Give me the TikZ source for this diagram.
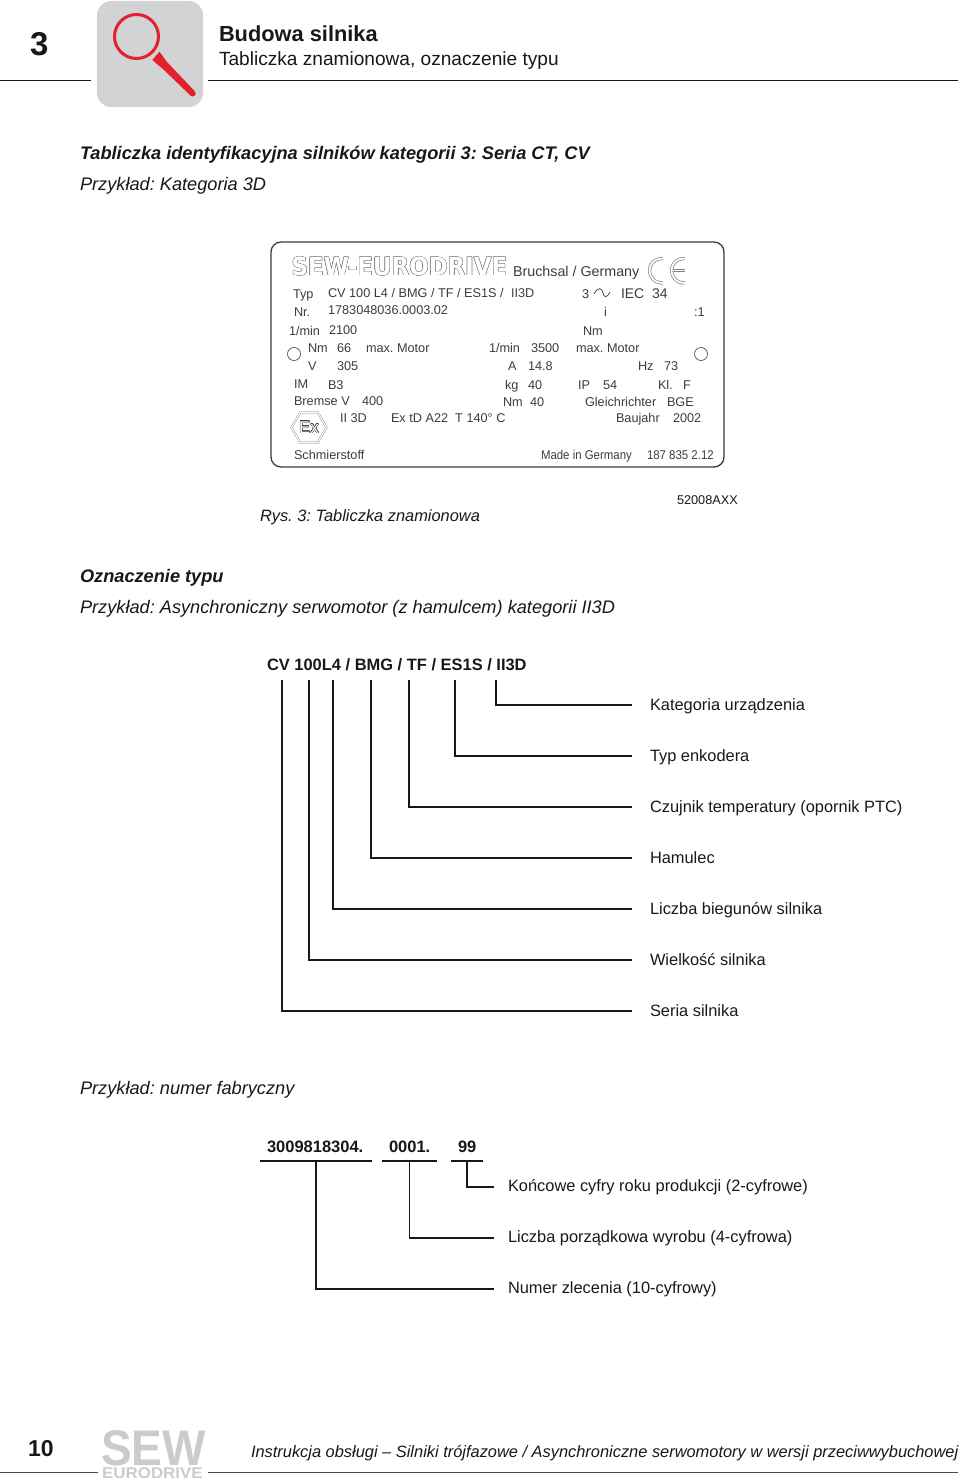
\documentclass[tikz,border=0pt]{standalone}
\usepackage{fontspec}
\setmainfont{Liberation Sans}
\newfontfamily\logofont{DejaVu Sans}
\usepackage[copies]{contour}
\usetikzlibrary{shapes.geometric, positioning, calc}
\definecolor{inkblack}{HTML}{1A1718}
\definecolor{platetxt}{HTML}{3C3C3E}
\definecolor{iconred}{HTML}{E3202C}
\definecolor{icongray}{HTML}{D1D3D4}
\definecolor{logogray}{HTML}{C9CBCD}
\contourlength{0.5pt}
\frenchspacing

\begin{document}
\begin{tikzpicture}[
        x=1pt, y=-1pt, text=inkblack,
        txt/.style={anchor=base west, inner sep=0pt, outer sep=0pt, font=\fontsize{16.4}{20}\selectfont},
        head/.style={txt, font=\fontsize{18.2}{22}\selectfont\itshape},
        plate/.style={anchor=base west, inner sep=0pt, outer sep=0pt, text=platetxt, font=\fontsize{12.7}{15}\selectfont},
        lab/.style={anchor=west, inner sep=0pt, inner xsep=18pt, outer sep=0pt, text height=14pt, text depth=4pt, font=\fontsize{16.4}{20}\selectfont},
        labb/.style={lab, inner xsep=14pt, text height=12pt},
        numb/.style={txt, font=\fontsize{16.5}{20}\selectfont\bfseries},
        lead/.style={line width=1.3pt, inkblack},
        rule/.style={line width=1pt, inkblack}
    ]
    \useasboundingbox (0,0) rectangle (960,1479);

    % page head
    \node[txt, font=\fontsize{33}{36}\selectfont\bfseries] (chap) at (30,56) {3};
    \node[txt, font=\fontsize{21.8}{26}\selectfont\bfseries] (title) at (219,42) {Budowa silnika};
    \node[txt, font=\fontsize{19.1}{22}\selectfont] (subtitle) at (219,66) {Tabliczka znamionowa, oznaczenie typu};
    \coordinate (hl1) at (0,81);
    \coordinate (hl2) at (91,81);
    \coordinate (hl3) at (208,81);
    \coordinate (hl4) at (958,81);
    \draw[rule] (hl1) -- (hl2);
    \draw[rule] (hl3) -- (hl4);

    % icon
    \fill[icongray, rounded corners=14pt] (97,1) rectangle (203,107);
    \draw[iconred, line width=3pt] (136.5,36.5) circle (22);
    \fill[iconred] (152.3,60) -- (159.5,51.7) -- (167,62) -- (194.5,91) -- (191,96) -- (164,70) -- cycle;
    \fill[iconred] (192.7,93.5) circle (3);

    % headings
    \node[head, font=\fontsize{18.2}{22}\selectfont\bfseries\itshape] (h1) at (80,160) {Tabliczka identyfikacyjna silników kategorii 3: Seria CT, CV};
    \node[head] (h2) at (80,191) {Przykład: Kategoria 3D};
    \node[head, font=\fontsize{16.4}{20}\selectfont\itshape] (rys) at (260,521) {Rys. 3: Tabliczka znamionowa};
    \node[plate, text=inkblack] (ref) at (677,504) {52008AXX};
    \node[head, font=\fontsize{18.2}{22}\selectfont\bfseries\itshape] (h3) at (80,582) {Oznaczenie typu};
    \node[head] (h4) at (80,613) {Przykład: Asynchroniczny serwomotor (z hamulcem) kategorii II3D};
    \node[head] (h5) at (80,1094) {Przykład: numer fabryczny};

    % plate
    \draw[line width=1.3pt, inkblack!85, rounded corners=10pt] (271,242) rectangle (724,467);
    \node[anchor=base west, inner sep=0pt, text=white, font=\logofont\bfseries\fontsize{25}{28}\selectfont, xscale=0.915] (logo) at (291.5,275.5)
        {\contour{gray}{SEW-EURODRIVE}};
    \node[plate, font=\fontsize{14.3}{17}\selectfont] (brand) at (513,276.5) {Bruchsal / Germany};
    \foreach \x/\y/\txt [count=\i] in {
        293/298/Typ, 328/297/{CV 100 L4 / BMG / TF / ES1S /}, 511/297/II3D, 294/316/Nr., 328/314/{1783048036.0003.02},
        289/335/{1/min}, 329/334/2100, 308/352/Nm, 337/352/66, 366/352/{max. Motor}, 308/370/V, 337/370/305,
        294/388/IM, 328/389/B3, 294/405/{Bremse V}, 362/405/400, 340/422/{II 3D}, 391/422/{Ex tD A22\ \ T 140° C},
        294/459/Schmierstoff, 582/298/3, 604/316/i, 694/316/{:1}, 583/335/Nm,
        489/352/{1/min}, 531/352/3500, 576/352/{max. Motor}, 508/370/A, 528/370/14.8, 638/370/Hz, 664/370/73,
        505/389/kg, 528/389/40, 578/389/IP, 603/389/54, 658/389/{Kl.}, 683/389/F,
        503/406/Nm, 530/406/40, 585/406/Gleichrichter, 667/406/BGE, 616/422/Baujahr, 673/422/2002}
        \node[plate] (pl\i) at (\x,\y) {\txt};
    \node[plate, font=\fontsize{14}{17}\selectfont] (iec) at (621,298.5) {IEC\ \ 34};
    \node[plate, xscale=0.9] (made) at (541,459) {Made in Germany};
    \node[plate, xscale=0.9] (partno) at (647,459) {187 835 2.12};

    % phase wave, holes, marks
    \draw[platetxt, line width=0.7pt] (594,294) .. controls (598,286) and (602,288) .. (603,293) .. controls (604,298) and (607,298) .. (610,292);
    \draw[platetxt, line width=0.6pt] (294,354) circle (6.5);
    \draw[platetxt, line width=0.6pt] (701,354) circle (6.5);
    \foreach \cx in {663,685}
        \draw[gray, line width=3.2pt] (\cx,258.5) .. controls (\cx-18,258) and (\cx-18,283) .. (\cx,283);
    \draw[gray, line width=3.2pt] (673,270.5) -- (685,270.5);
    \foreach \cx in {663,685}
        \draw[white, line width=1.8pt] (\cx,258.5) .. controls (\cx-18,258) and (\cx-18,283) .. (\cx,283);
    \draw[white, line width=1.8pt] (673,270.5) -- (685,270.5);
    \node[regular polygon, regular polygon sides=6, draw=gray, double=white, double distance=1.2pt, inner sep=0pt, minimum size=35pt, text=white, font=\fontsize{17}{18}\selectfont] (exmark) at (309,427.5) {\contourlength{0.3pt}\contour{platetxt}{Ex}};

    % type designation
    \node[txt, font=\fontsize{16.45}{20}\selectfont\bfseries] (typecode) at (267,670) {CV 100L4 / BMG / TF / ES1S / II3D};
    \foreach \x/\y/\txt [count=\i] in {
        496/705/Kategoria urządzenia, 455/756/Typ enkodera, 409/807/Czujnik temperatury (opornik PTC),
        371/858/Hamulec, 333/909/Liczba biegunów silnika, 309/960/Wielkość silnika, 282/1011/Seria silnika}
    {
        \coordinate (top\i) at (\x,680);
        \node[lab] (lb\i) at (632,\y) {\txt};
        \draw[lead] (top\i) |- (lb\i.west);
    }

    % serial number
    \node[numb] (nra) at (267,1152) {3009818304.};
    \node[numb] (nrb) at (389,1152) {0001.};
    \node[numb] (nrc) at (458,1152) {99};
    \foreach \xa/\xb [count=\i] in {260/372, 382/437, 451/483}
    {
        \coordinate (ua\i) at (\xa,1161);
        \coordinate (ub\i) at (\xb,1161);
        \draw[lead] (ua\i) -- coordinate (um\i) (ub\i);
    }
    \foreach \i/\y/\txt in {
        3/1187/Końcowe cyfry roku produkcji (2-cyfrowe),
        2/1238/Liczba porządkowa wyrobu (4-cyfrowa),
        1/1289/Numer zlecenia (10-cyfrowy)}
    {
        \node[labb] (ln\i) at (494,\y) {\txt};
        \draw[lead] (um\i) |- (ln\i.west);
    }

    % page foot
    \node[txt, font=\fontsize{23}{26}\selectfont\bfseries] (pageno) at (28,1456) {10};
    \node[anchor=base west, inner sep=0pt, text=logogray, font=\fontsize{50}{50}\selectfont\bfseries, xscale=0.92] (sewa) at (101,1465) {SEW};
    \node[anchor=base west, inner sep=0pt, text=logogray, font=\fontsize{15.5}{16}\selectfont\bfseries, xscale=1.09] (sewb) at (102,1478.5) {EURODRIVE};
    \coordinate (fl1) at (0,1472);
    \coordinate (fl2) at (98,1472);
    \coordinate (fl3) at (208,1472);
    \coordinate (fl4) at (958,1472);
    \draw[rule, black!70] (fl1) -- (fl2);
    \draw[rule, black!70] (fl3) -- (fl4);
    \node[txt, font=\fontsize{16.4}{20}\selectfont\itshape] (foot) at (251,1457) {Instrukcja obsługi – Silniki trójfazowe / Asynchroniczne serwomotory w wersji przeciwwybuchowej};
\end{tikzpicture}
\end{document}
